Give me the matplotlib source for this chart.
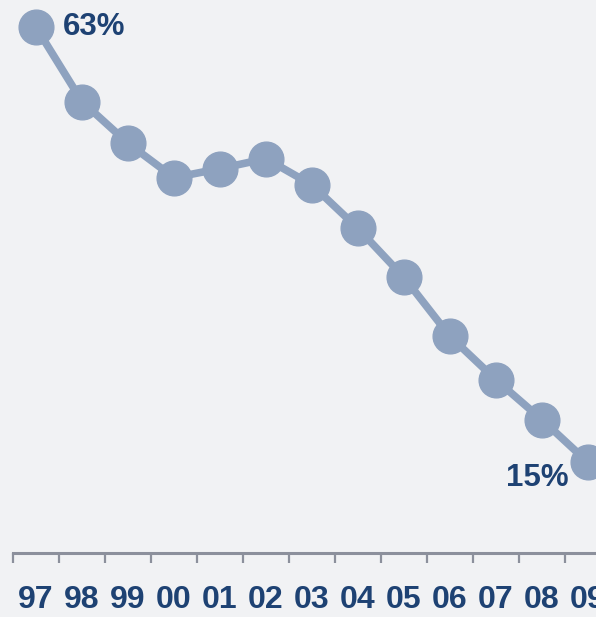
import matplotlib
matplotlib.use("Agg")
import matplotlib.pyplot as plt
import numpy as np

years = ["97", "98", "99", "00", "01", "02", "03", "04", "05", "06", "07", "08", "09"]
values = [63, 54.8, 50.2, 46.4, 47.4, 48.5, 45.6, 40.8, 35.4, 28.9, 24.1, 19.7, 15]
first_label = "63%"
last_label = "15%"

line_color = "#8ea2bf"
text_color = "#1e4273"
axis_color = "#8c909c"
bg = "#f1f2f4"

fig = plt.figure(figsize=(5.96, 6.17), dpi=100)
fig.patch.set_facecolor(bg)
ax = fig.add_axes([0, 64 / 617, 1, 553 / 617])
ax.set_facecolor(bg)

x = np.arange(len(years))
ax.plot(x, values, color=line_color, lw=5.5, marker="o", markersize=25,
        markerfacecolor=line_color, markeredgecolor=line_color, solid_capstyle="butt",
        clip_on=True, zorder=3)

ax.set_xlim(-36 / 46, (596 - 36) / 46)
ax.set_ylim(5, 66)

for s in ["top", "left", "right"]:
    ax.spines[s].set_visible(False)
ax.spines["bottom"].set_color(axis_color)
ax.spines["bottom"].set_linewidth(2.2)
ax.spines["bottom"].set_bounds(-0.5, (596 - 36) / 46)

ax.set_yticks([])
ax.set_xticks(x - 0.5)
ax.set_xticklabels([])
ax.tick_params(axis="x", which="major", length=7, width=1.6, color=axis_color, direction="out")
ax.set_xticks(x, minor=True)
ax.set_xticklabels(years, minor=True)
ax.tick_params(axis="x", which="minor", length=0, pad=23, labelsize=23, labelcolor=text_color)
for lab in ax.get_xticklabels(minor=True):
    lab.set_fontfamily(["Liberation Sans", "DejaVu Sans"])
    lab.set_fontweight("bold")

ax.annotate(first_label, (x[0], values[0]), xytext=(19, 0), textcoords="offset points",
            ha="left", va="center", fontsize=22.5, fontweight="bold", color=text_color,
            family=["Liberation Sans", "DejaVu Sans"])
ax.annotate(last_label, (x[-1], values[-1]), xytext=(-14, -11), textcoords="offset points",
            ha="right", va="center", fontsize=22.5, fontweight="bold", color=text_color,
            family=["Liberation Sans", "DejaVu Sans"])

fig.savefig("out.png", dpi=100, facecolor=bg)
